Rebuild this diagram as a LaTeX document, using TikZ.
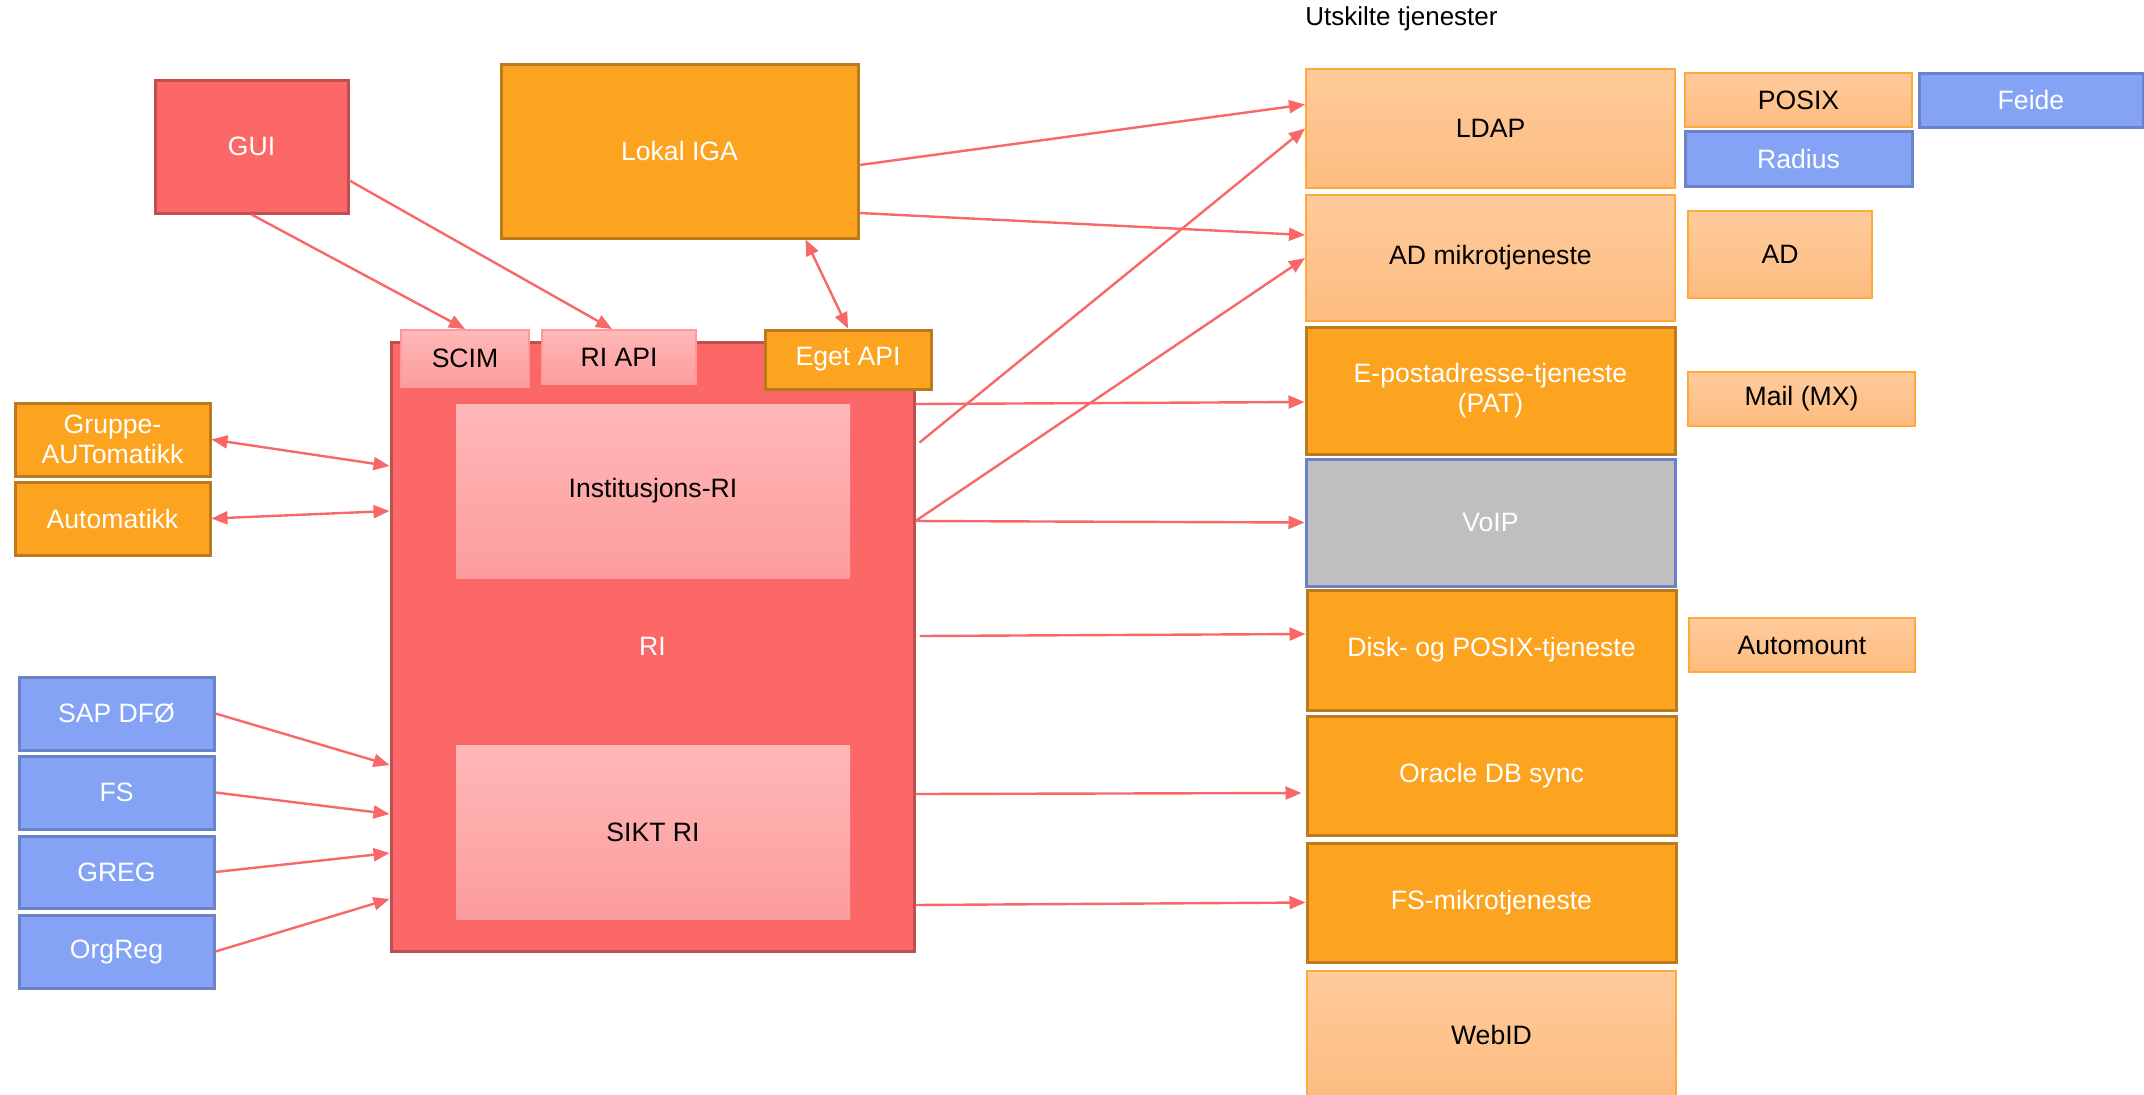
\documentclass[tikz,border=0pt]{standalone}
\usepackage{fontspec}
\setmainfont{Liberation Sans}
\usetikzlibrary{positioning}
\usetikzlibrary{arrows.meta}
\definecolor{rired}{HTML}{FC6868}
\definecolor{riborder}{HTML}{C0504D}
\definecolor{pinktop}{HTML}{FFB8B8}
\definecolor{pinkbot}{HTML}{FC9C9C}
\definecolor{pinkborder}{HTML}{FF9A9A}
\definecolor{orfill}{HTML}{FCA31F}
\definecolor{orborder}{HTML}{BD7A1C}
\definecolor{lotop}{HTML}{FFCB9C}
\definecolor{lobot}{HTML}{FDBC80}
\definecolor{loborder}{HTML}{FFAA38}
\definecolor{blfill}{HTML}{85A3F5}
\definecolor{blborder}{HTML}{6B82C8}
\definecolor{grfill}{HTML}{BFBFBF}
\definecolor{arrowred}{HTML}{F86868}
\tikzset{
    wh/.style 2 args = {minimum width=#1pt, minimum height=#2pt},
    box/.style = {rectangle, inner sep=0pt, align=center, font=\fontsize{13.3}{15}\selectfont},
    mynoder/.style = {box, draw=riborder, line width=1.5pt, fill=rired, text=white},
    mynodep/.style = {box, draw=pinkborder, line width=1pt, top color=pinktop, bottom color=pinkbot, text=black},
    mynodei/.style = {box, draw=none, top color=pinktop, bottom color=pinkbot, text=black},
    mynodeo/.style = {box, draw=orborder, line width=1.5pt, fill=orfill, text=white},
    mynodel/.style = {box, draw=loborder, line width=1pt, top color=lotop, bottom color=lobot, text=black},
    mynodeb/.style = {box, draw=blborder, line width=1.5pt, fill=blfill, text=white},
    mynodeg/.style = {box, draw=blborder, line width=1.5pt, fill=grfill, text=white},
    edger/.style = {-{Triangle[length=8pt,width=6.5pt]}, line width=1.2pt, draw=arrowred, fill=arrowred},
    edgerd/.style = {{Triangle[length=8pt,width=6.5pt]}-{Triangle[length=8pt,width=6.5pt]}, line width=1.2pt, draw=arrowred, fill=arrowred}
}
\begin{document}
\begin{tikzpicture}[x=0.5pt,y=-0.5pt]
\useasboundingbox (0,0) rectangle (2144,1094);
%
\node[mynoder, wh={96.5}{66.5}] at (251.5,146.5) (gui) {GUI};
\node[mynodeo, wh={178.5}{87}] at (679.5,151) (iga) {Lokal IGA};
\node[mynoder, wh={261.5}{304.5}] at (652.5,646.5) (ri) {RI};
\node[mynodei, wh={197}{87}] at (653,491) (inst) {Institusjons-RI};
\node[mynodei, wh={197}{87}] at (653,832) (sikt) {SIKT RI};
\node[mynodep, wh={64}{28.5}] at (465,358.5) (scim) {SCIM};
\node[mynodep, wh={77}{27}] at (619,357) (riapi) {RI API};
\node[mynodeo, wh={83}{29.5}] at (848,359.5) (eget) {Eget API};
%
\node[mynodeo, wh={97.5}{36.5}] at (112.5,439.5) (gruppe) {Gruppe-\\AUTomatikk};
\node[mynodeo, wh={97.5}{36.5}] at (112.5,518.5) (auto) {Automatikk};
\node[mynodeb, wh={97.5}{36.5}] at (116.5,713.5) (sap) {SAP DFØ};
\node[mynodeb, wh={97.5}{36.5}] at (116.5,792.5) (fs) {FS};
\node[mynodeb, wh={97.5}{36}] at (116.5,872) (greg) {GREG};
\node[mynodeb, wh={97.5}{36.5}] at (116.5,951.5) (orgreg) {OrgReg};
%
\node[anchor=west, inner sep=0pt, font=\fontsize{13}{15}\selectfont] at (1305,19) (title) {Utskilte tjenester};
\node[mynodel, wh={184.5}{59.5}] at (1490.5,128.5) (ldap) {LDAP};
\node[mynodel, wh={184.5}{63}] at (1490.5,258) (admik) {AD mikrotjeneste};
\node[mynodeo, wh={184.5}{63.5}] at (1490.5,390.5) (epost) {E-postadresse-tjeneste\\(PAT)};
\node[mynodeg, wh={184.5}{63.5}] at (1490.5,522.5) (voip) {VoIP};
\node[mynodeo, wh={184.5}{60}] at (1491.5,650) (disk) {Disk- og POSIX-tjeneste};
\node[mynodeo, wh={184.5}{59.5}] at (1491.5,775.5) (oracle) {Oracle DB sync};
\node[mynodeo, wh={184.5}{59.5}] at (1491.5,902.5) (fsmik) {FS-mikrotjeneste};
\node[mynodel, wh={184.5}{64}] at (1491.5,1035) (webid) {WebID};
\node[mynodel, wh={113.5}{27}] at (1798.5,100) (posix) {POSIX};
\node[mynodeb, wh={113.5}{27.5}] at (1798.5,158.5) (radius) {Radius};
\node[mynodeb, wh={112}{27}] at (2031,100) (feide) {Feide};
\node[mynodel, wh={92}{43.5}] at (1780,254.5) (ad) {AD};
\node[mynodel, wh={113.5}{27}] at (1801.5,399) (mail) {Mail (MX)};
\node[mynodel, wh={113}{27}] at (1802,645) (automount) {Automount};
%
\draw[edger] (gui.south) -- (scim.north);
\draw[edger] ([yshift=-17pt]gui.east) -- ([xshift=-3.5pt]riapi.north);
\draw[edgerd] ([xshift=63pt]iga.south) -- (eget.north);
\draw[edger] ([yshift=-7pt]iga.east) -- ([yshift=12pt]ldap.west);
\draw[edger] ([yshift=-31pt]iga.east) -- ([yshift=11.5pt]admik.west);
\draw[edger] ([xshift=2pt,yshift=102pt]ri.east) -- (ldap.west);
\draw[edger] ([yshift=62.75pt]ri.east) -- (admik.west);
\draw[edger] ([yshift=121.25pt]ri.east) -- ([yshift=-5.75pt]epost.west);
\draw[edger] ([yshift=62.75pt]ri.east) -- (voip.west);
\draw[edger] ([xshift=2pt,yshift=5.25pt]ri.east) -- ([yshift=8pt]disk.west);
\draw[edger] ([yshift=-73.75pt]ri.east) -- ([xshift=-2pt,yshift=-8.75pt]oracle.west);
\draw[edger] ([yshift=-129.25pt]ri.east) -- (fsmik.west);
%
\draw[edgerd] (gruppe.east) -- ([yshift=90.25pt]ri.west);
\draw[edgerd] (auto.east) -- ([yshift=67.75pt]ri.west);
\draw[edger] (sap.east) -- ([yshift=-59.25pt]ri.west);
\draw[edger] (fs.east) -- ([yshift=-83.75pt]ri.west);
\draw[edger] (greg.east) -- ([yshift=-103.25pt]ri.west);
\draw[edger] (orgreg.east) -- ([yshift=-126.25pt]ri.west);
\end{tikzpicture}
\end{document}
